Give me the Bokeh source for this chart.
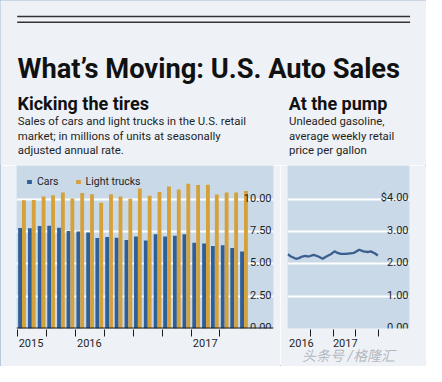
import numpy as np
import pandas as pd
from bokeh.plotting import figure
from bokeh.layouts import column, row
from bokeh.models import (Range1d, FixedTicker, Grid, Legend, LegendItem, ColumnDataSource, Span)
from bokeh.core.properties import value
from bokeh.embed import file_html
from bokeh.resources import INLINE

# ---------------- data ----------------
months = ["Jul 2015", "Aug 2015", "Sep 2015", "Oct 2015", "Nov 2015", "Dec 2015",
          "Jan 2016", "Feb 2016", "Mar 2016", "Apr 2016", "May 2016", "Jun 2016",
          "Jul 2016", "Aug 2016", "Sep 2016", "Oct 2016", "Nov 2016", "Dec 2016",
          "Jan 2017", "Feb 2017", "Mar 2017", "Apr 2017", "May 2017", "Jun 2017"]
cars = [7.78, 7.76, 7.93, 7.96, 7.81, 7.54, 7.51, 7.44, 7.00, 7.09, 7.02, 6.85,
        7.12, 6.82, 7.29, 7.12, 7.19, 7.29, 6.63, 6.58, 6.38, 6.45, 6.23, 5.96]
trucks = [9.93, 9.95, 10.22, 10.32, 10.52, 10.07, 10.49, 10.39, 9.73, 10.39, 10.22, 10.05,
          10.84, 10.27, 10.57, 10.99, 10.76, 11.21, 11.11, 11.13, 10.37, 10.52, 10.52, 10.64]
bar_yticks = [0, 2.5, 5, 7.5, 10]
bar_ytick_labels = ["0.00", "2.50", "5.00", "7.50", "10.00"]
bar_year_months = ["Jul 2015", "Jan 2016", "Jan 2017"]
bar_year_labels = ["2015", "2016", "2017"]
bar_tick_months = ["Jul 2015", "Oct 2015", "Jan 2016", "Apr 2016", "Jul 2016",
                   "Oct 2016", "Jan 2017", "Apr 2017"]

gas_dates = ["2016-07-02", "2016-07-15", "2016-08-04", "2016-08-16", "2016-08-29",
             "2016-09-11", "2016-09-24", "2016-10-14", "2016-11-02", "2016-11-19",
             "2016-12-04", "2016-12-24", "2017-01-06", "2017-01-18", "2017-01-31",
             "2017-02-20", "2017-03-11", "2017-03-24", "2017-04-15", "2017-05-02",
             "2017-05-19", "2017-05-31", "2017-06-16", "2017-06-29"]
gas_price = [2.30, 2.23, 2.16, 2.18, 2.23, 2.25, 2.23, 2.28, 2.23, 2.16,
             2.23, 2.31, 2.39, 2.34, 2.31, 2.31, 2.33, 2.34, 2.44, 2.39,
             2.37, 2.39, 2.33, 2.26]
gas_yticks = [0, 1, 2, 3, 4]
gas_ytick_labels = ["0.00", "1.00", "2.00", "3.00", "$4.00"]
gas_year_dates = ["2016-07-01", "2017-01-01"]
gas_year_labels = ["2016", "2017"]
gas_tick_dates = ["2016-10-01", "2017-01-01", "2017-04-01", "2017-07-01"]

title_text = "What\u2019s Moving: U.S. Auto Sales"
left_head = "Kicking the tires"
left_sub = ["Sales of cars and light trucks in the U.S. retail",
            "market; in millions of units at seasonally",
            "adjusted annual rate."]
right_head = "At the pump"
right_sub = ["Unleaded gasoline,", "average weekly retail", "price per gallon"]
watermark = "\u5934\u6761\u53f7 /\u683c\u9686\u6c47"

# ---------------- styles ----------------
PAGE = "#eef2f7"
PANEL = "#c9d9e8"
BLUE = "#2f5f98"
GOLD = "#d5a13b"
DARK = "#1a1a1a"
TXT = "#1f1f1f"
BODY = "Roboto"
HEAD = "Roboto"
W, H = 426, 366
HH = 165            # header height
BH = H - HH         # chart row height
BW = 280            # bar figure width
DAY_MS = 86400000.0
MONTH_MS = 30.44 * DAY_MS
LABEL_SHIFT_MONTHS = 1.44      # year label centre right of its tick
LABEL_SHIFT_DAYS = [56, 48]

def ms(d):
    return pd.Timestamp(d).value / 1e6

def mstart(m):
    return pd.Timestamp(pd.to_datetime(m, format="%b %Y")).value / 1e6

def style_time_axis(a, tick_color):
    a.axis_line_color = None
    a.major_tick_line_color = None
    a.minor_tick_line_color = tick_color
    a.minor_tick_line_width = 1
    a.major_tick_in = 0
    a.major_tick_out = 10
    a.minor_tick_in = -1
    a.minor_tick_out = 8
    a.major_label_standoff = 0
    a.major_label_text_font = BODY
    a.major_label_text_font_size = "11px"
    a.major_label_text_color = TXT

# ---------------- header ----------------
head = figure(width=W, height=HH, x_range=Range1d(0, W), y_range=Range1d(HH, 0),
              output_backend="svg", toolbar_location=None,
              x_axis_location=None, y_axis_location=None,
              min_border=0, background_fill_color=PAGE, border_fill_color=PAGE,
              outline_line_color=None)
head.xgrid.visible = False
head.ygrid.visible = False
head.segment(x0=[16.7, 16.7], y0=[16.0, 21.7], x1=[409.6, 409.6], y1=[16.0, 21.7],
             line_color="#333333", line_width=1.5)
head.text(x=[17.0], y=[68.7], text=[title_text], text_font=value(HEAD),
          text_font_style="bold", text_font_size="27.3px", text_color="#111111",
          text_baseline="alphabetic")
head.text(x=[17.0, 288.2], y=[102.8, 102.8], text=[left_head, right_head],
          text_font=value(HEAD), text_font_style="bold", text_font_size="18px",
          text_color="#111111", text_baseline="alphabetic")
sub_y = [120.4, 135.1, 149.8]
head.text(x=[17.3] * 3, y=sub_y, text=left_sub, text_font=value(BODY),
          text_font_size="11.4px", text_color=TXT, text_baseline="alphabetic")
head.text(x=[288.5] * 3, y=sub_y, text=right_sub, text_font=value(BODY),
          text_font_size="11.4px", text_color=TXT, text_baseline="alphabetic")

# ---------------- bar chart (datetime x) ----------------
x0 = mstart(months[0])
starts = np.array([mstart(m) for m in months])
src = ColumnDataSource(dict(xc=starts + 0.3 * MONTH_MS, xt=starts + 0.7 * MONTH_MS,
                            cars=cars, trucks=trucks))
XSTART = x0 - 0.07 * MONTH_MS
XEND = x0 + 26.59 * MONTH_MS
bar = figure(width=BW, height=BH, x_range=Range1d(XSTART, XEND), y_range=Range1d(0, 12.62),
             x_axis_type="datetime",
             output_backend="svg", toolbar_location=None, y_axis_location=None,
             min_border_left=16, min_border_right=7, min_border_top=0, min_border_bottom=38,
             background_fill_color=PANEL, border_fill_color=PAGE, outline_line_color=None)
bar.xgrid.visible = False
bar.ygrid.visible = False
bar.add_layout(Grid(dimension=1, ticker=FixedTicker(ticks=bar_yticks[1:]),
                    grid_line_color="white", grid_line_width=2))
rc = bar.vbar(x="xc", top="cars", width=0.4 * MONTH_MS, source=src,
              fill_color=BLUE, line_color=None)
rt = bar.vbar(x="xt", top="trucks", width=0.4 * MONTH_MS, source=src,
              fill_color=GOLD, line_color=None)
bar.add_layout(Span(location=bar_yticks[0], dimension="width", line_color=DARK, line_width=2))
ax = bar.xaxis[0]
label_pos = [mstart(m) + LABEL_SHIFT_MONTHS * MONTH_MS for m in bar_year_months]
ax.ticker = FixedTicker(ticks=label_pos, minor_ticks=[mstart(m) for m in bar_tick_months])
ax.major_label_overrides = {t: lab for t, lab in zip(label_pos, bar_year_labels)}
style_time_axis(ax, DARK)
bar.text(x=[XEND] * len(bar_yticks), y=bar_yticks, text=bar_ytick_labels,
         text_font=value(BODY), text_font_size="11px", text_color=TXT,
         text_align="right", text_baseline="alphabetic", x_offset=-2, y_offset=-1.5)
leg = Legend(items=[LegendItem(label="Cars", renderers=[rc]),
                    LegendItem(label="Light trucks", renderers=[rt])],
             orientation="horizontal", location="top_left", margin=10, padding=0,
             glyph_width=6, glyph_height=5, label_height=5, label_standoff=5, spacing=16,
             label_text_font=BODY, label_text_font_size="10.5px", label_text_color=TXT,
             background_fill_alpha=0, border_line_color=None)
bar.add_layout(leg)

# ---------------- line chart ----------------
gsrc = ColumnDataSource(dict(x=[ms(d) for d in gas_dates], y=gas_price))
GEND = ms("2017-11-03")
line = figure(width=W - BW, height=BH, x_range=Range1d(ms("2016-07-01"), GEND),
              y_range=Range1d(0, 5.05), output_backend="svg", toolbar_location=None,
              y_axis_location=None,
              min_border_left=7, min_border_right=17, min_border_top=0, min_border_bottom=38,
              background_fill_color=PANEL, border_fill_color=PAGE, outline_line_color=None)
line.xgrid.visible = False
line.ygrid.visible = False
line.add_layout(Grid(dimension=1, ticker=FixedTicker(ticks=gas_yticks[1:]),
                     grid_line_color="white", grid_line_width=2))
line.line(x="x", y="y", source=gsrc, line_color="#3a5f8e", line_width=2.3)
lax = line.xaxis[0]
gyt = [ms(d) + s * DAY_MS for d, s in zip(gas_year_dates, LABEL_SHIFT_DAYS)]
lax.ticker = FixedTicker(ticks=gyt, minor_ticks=[ms(d) for d in gas_tick_dates])
lax.major_label_overrides = {t: lab for t, lab in zip(gyt, gas_year_labels)}
style_time_axis(lax, DARK)
lax.axis_label = watermark
lax.axis_label_text_font = "Roboto, Noto Sans CJK SC"
lax.axis_label_text_font_size = "14px"
lax.axis_label_text_font_style = "italic"
lax.axis_label_text_color = "#b4b9c1"
lax.axis_label_standoff = -2
line.text(x=[GEND] * len(gas_yticks), y=gas_yticks, text=gas_ytick_labels,
          text_font=value(BODY), text_font_size="11px", text_color=TXT,
          text_align="right", text_baseline="alphabetic", x_offset=-1, y_offset=-1.5)

layout = column(head, row(bar, line, spacing=0), spacing=0,
                styles={"outline": "1px solid #a9bad3", "outline-offset": "-1px"})
open("out.html", "w").write(file_html(layout, INLINE))
